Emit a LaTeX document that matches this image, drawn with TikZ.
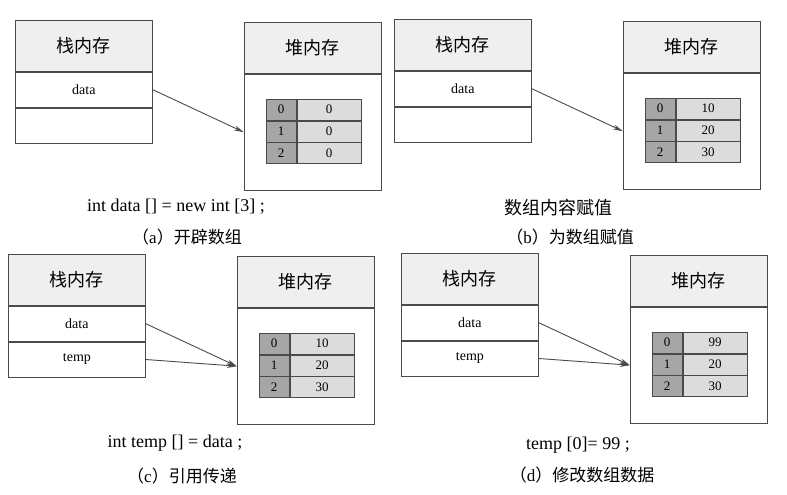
\documentclass[tikz,border=0pt]{standalone}
\usepackage{fontspec}
\setmainfont{Liberation Serif}
\newfontfamily\cjk{Noto Sans CJK SC}
\usetikzlibrary{arrows.meta, positioning}
\usetikzlibrary{calc}

\definecolor{linegray}{HTML}{4A4A4A}
\definecolor{hdrgray}{HTML}{EFEFEF}
\definecolor{idxgray}{HTML}{A6A6A6}
\definecolor{valgray}{HTML}{DCDCDC}

\tikzset{
  hdr/.style={draw=linegray, fill=hdrgray, minimum width=137pt, minimum height=51pt,
    inner sep=0pt, font=\cjk\fontsize{18}{20}\selectfont},
  slot/.style={draw=linegray, minimum width=137pt, minimum height=35pt,
    inner sep=0pt, font=\fontsize{14}{16}\selectfont},
  heapbody/.style={draw=linegray, minimum width=137pt, minimum height=116pt, inner sep=0pt},
  idxcell/.style={draw=linegray, fill=idxgray, minimum width=30pt, minimum height=21pt,
    inner sep=0pt, font=\fontsize{13}{15}\selectfont},
  valcell/.style={draw=linegray, fill=valgray, minimum width=64pt, minimum height=21pt,
    inner sep=0pt, font=\fontsize{13}{15}\selectfont},
  ptr/.style={draw=linegray, line width=0.9pt, -{Stealth[length=10pt,width=5pt]}},
  code/.style={font=\fontsize{18}{20}\selectfont},
  caption/.style={font=\fontsize{17}{19}\selectfont}
}

\begin{document}
\begin{tikzpicture}[x=1pt, y=-1pt, line width=0.8pt]

\useasboundingbox[fill=white] (0,0) rectangle (787,495);

% one panel each: stack at (sx,sy), three array values, second stack slot
\foreach \p/\sx/\sy/\va/\vb/\vc/\tl/\hasT in {a/15/20/0/0/0/{}/0, b/394/19/10/20/30/{}/0,
    c/8/254/10/20/30/temp/1, d/401/253/99/20/30/temp/1} {

  % stack
  \node[hdr, anchor=north west] (sh\p) at (\sx,\sy) {栈内存};
  \node[slot, below=0pt of sh\p] (sd\p) {data};
  \node[slot, below=0pt of sd\p] (st\p) {\tl};

  % heap
  \node[hdr, right=91pt of sh\p, yshift=-2pt] (hh\p) {堆内存};
  \node[heapbody, below=0pt of hh\p] (hb\p) {};

  % array
  \node[idxcell, anchor=north west] (i0\p) at ($(hb\p.north west)+(22,25)$) {0};
  \node[idxcell, below=0pt of i0\p] (i1\p) {1};
  \node[idxcell, below=0pt of i1\p] (i2\p) {2};
  \node[valcell, right=0pt of i0\p] (v0\p) {\va};
  \node[valcell, right=0pt of i1\p] (v1\p) {\vb};
  \node[valcell, right=0pt of i2\p] (v2\p) {\vc};

  \draw[ptr] (sd\p.east) -- (hb\p.west);
  \ifnum\hasT=1
    \draw[ptr] (st\p.east) -- (hb\p.west);
  \fi
}

% code lines and captions
\node[code] (codea) at (176,207) {int data [] = new int [3] ;};
\node[caption] (capa) at (187,237) {{\cjk（}a{\cjk）开辟数组}};

\node[code] (codeb) at (558,208) {\cjk 数组内容赋值};
\node[caption] (capb) at (570,237) {{\cjk（}b{\cjk）为数组赋值}};

\node[code] (codec) at (175,443) {int temp [] = data ;};
\node[caption] (capc) at (182,476) {{\cjk（}c{\cjk）引用传递}};

\node[code] (coded) at (578,445) {temp [0]= 99 ;};
\node[caption] (capd) at (582,475) {{\cjk（}d{\cjk）修改数组数据}};

\end{tikzpicture}
\end{document}
